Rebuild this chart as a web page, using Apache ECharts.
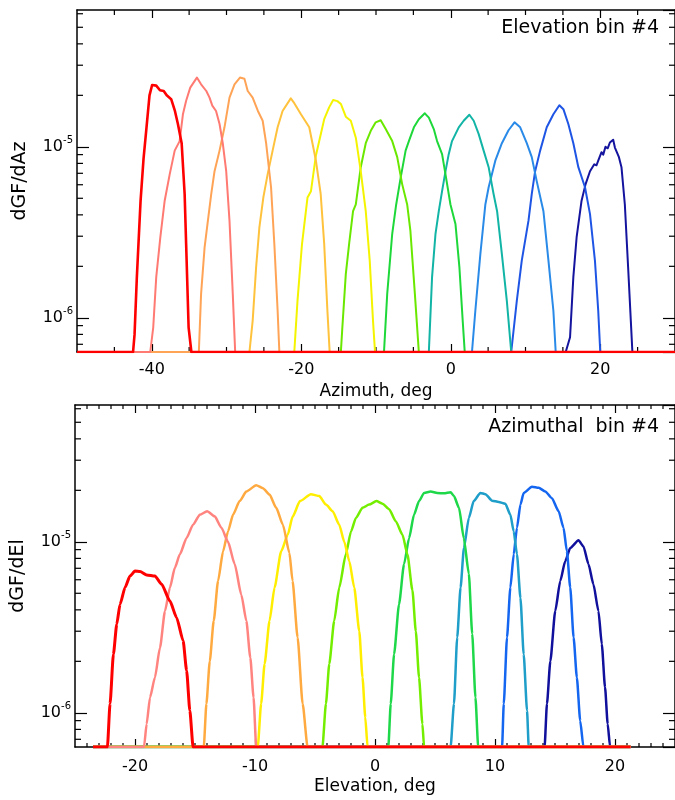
<!DOCTYPE html>
<html><head><meta charset="utf-8">
<script src="https://cdn.jsdelivr.net/npm/echarts@6/dist/echarts.min.js"></script>
<style>html,body{margin:0;padding:0;background:#fff}#main{width:675px;height:800px}</style>
</head><body><div id="main"></div>
<script>
// floor value (curves at zero are drawn on the bottom of the log axis)
const F = 6.31e-7;
const Y_MIN = 6.31e-7;
const Y_MAX = 6.31e-5;

// ---------- Top panel: Elevation bin #4, dGF/dAz vs Azimuth ----------
const azRed = [[-42.5,F],[-42.3,8e-7],[-42.0,1.7e-6],[-41.5,4.8e-6],[-41.1,8.5e-6],[-40.7,1.3e-5],[-40.3,2.0e-5],[-39.95,2.3e-5],[-39.4,2.28e-5],[-38.9,2.14e-5],[-38.4,2.12e-5],[-38.0,2.0e-5],[-37.4,1.9e-5],[-36.9,1.62e-5],[-36.5,1.36e-5],[-36.0,1.05e-5],[-35.6,5.3e-6],[-35.4,2.7e-6],[-35.07,8.8e-7],[-34.7,F]];
const azSalmon = [[-40.2,F],[-39.8,8.8e-7],[-39.4,1.73e-6],[-38.85,2.96e-6],[-38.27,4.84e-6],[-37.6,6.9e-6],[-36.93,9.5e-6],[-36.27,1.08e-5],[-35.83,1.55e-5],[-35.4,1.86e-5],[-34.85,2.22e-5],[-33.96,2.54e-5],[-33.4,2.32e-5],[-32.7,2.12e-5],[-32.27,1.94e-5],[-31.9,1.74e-5],[-31.4,1.62e-5],[-30.93,1.36e-5],[-30.5,1.05e-5],[-30.04,7.2e-6],[-29.6,3.7e-6],[-29.16,1.38e-6],[-28.84,F]];
const azOrange = [[-33.7,F],[-33.4,1.38e-6],[-32.93,2.58e-6],[-32.6,3.38e-6],[-32.04,5.3e-6],[-31.6,7.2e-6],[-30.93,9.5e-6],[-30.27,1.3e-5],[-29.6,1.94e-5],[-28.93,2.32e-5],[-28.2,2.54e-5],[-27.6,2.5e-5],[-27.16,2.12e-5],[-26.5,1.94e-5],[-25.8,1.62e-5],[-25.16,1.42e-5],[-24.7,1.05e-5],[-24.04,5.8e-6],[-23.6,2.7e-6],[-23.16,1.1e-6],[-22.93,F]];
const azLtOrange = [[-26.93,F],[-26.5,9.6e-7],[-26.04,1.97e-6],[-25.6,3.38e-6],[-25.07,5.06e-6],[-24.5,6.9e-6],[-23.83,9.5e-6],[-23.16,1.3e-5],[-22.5,1.62e-5],[-21.4,1.92e-5],[-20.93,1.8e-5],[-20.04,1.55e-5],[-18.93,1.3e-5],[-18.5,1.05e-5],[-18.04,8.3e-6],[-17.4,5.3e-6],[-16.93,2.7e-6],[-16.5,1.1e-6],[-16.2,F]];
const azYellow = [[-20.93,F],[-20.5,1.26e-6],[-19.9,2.7e-6],[-19.16,5.06e-6],[-18.7,5.5e-6],[-18.04,8.9e-6],[-16.93,1.45e-5],[-16.27,1.7e-5],[-15.73,1.88e-5],[-15.16,1.85e-5],[-14.7,1.78e-5],[-14.04,1.5e-5],[-13.37,1.42e-5],[-12.7,1.13e-5],[-12.04,7.2e-6],[-11.37,4.2e-6],[-10.84,2.16e-6],[-10.4,9.6e-7],[-10.13,F]];
const azLtGreen = [[-14.7,F],[-14.5,8.8e-7],[-14.04,1.8e-6],[-13.6,2.7e-6],[-13.07,4.2e-6],[-12.7,4.6e-6],[-12.04,7.6e-6],[-11.37,1.05e-5],[-10.7,1.24e-5],[-10.04,1.39e-5],[-9.37,1.43e-5],[-8.7,1.27e-5],[-7.83,1.08e-5],[-7.16,8.7e-6],[-6.5,6.05e-6],[-5.83,4.6e-6],[-5.4,3.23e-6],[-4.8,1.38e-6],[-4.27,F]];
const azGreen = [[-8.93,F],[-8.5,1.38e-6],[-7.83,3.1e-6],[-7.3,4.6e-6],[-6.7,6.6e-6],[-6.04,9.5e-6],[-5.6,1.08e-5],[-4.93,1.3e-5],[-4.27,1.45e-5],[-3.47,1.57e-5],[-2.93,1.48e-5],[-2.27,1.27e-5],[-1.83,1.08e-5],[-1.16,9.06e-6],[-0.63,6.6e-6],[-0.04,4.6e-6],[0.63,3.54e-6],[1.16,1.97e-6],[1.6,9.6e-7],[1.87,F]];
const azTeal = [[-2.93,F],[-2.5,1.73e-6],[-2.04,3.1e-6],[-1.6,4.2e-6],[-1.16,5.5e-6],[-0.7,7.2e-6],[-0.27,9.06e-6],[0.17,1.08e-5],[1.07,1.3e-5],[1.73,1.42e-5],[2.49,1.54e-5],[3.07,1.42e-5],[3.73,1.19e-5],[4.4,9.5e-6],[5.07,7.6e-6],[5.73,5.3e-6],[6.2,4.2e-6],[6.84,2.36e-6],[7.5,1.26e-6],[8.09,F]];
const azLtBlue = [[2.84,F],[3.29,1.1e-6],[3.96,2.36e-6],[4.63,4.6e-6],[5.07,5.8e-6],[5.96,8.3e-6],[6.84,1.05e-5],[7.73,1.25e-5],[8.53,1.39e-5],[9.29,1.3e-5],[10.17,1.05e-5],[10.84,8.7e-6],[11.5,6.3e-6],[12.4,4.2e-6],[13.07,2.16e-6],[13.73,1.1e-6],[14.04,F]];
const azBlue = [[8.09,F],[8.84,1.26e-6],[9.5,2.16e-6],[10.4,3.7e-6],[10.84,5.3e-6],[11.29,7.2e-6],[11.96,9.5e-6],[12.84,1.3e-5],[13.73,1.55e-5],[14.53,1.75e-5],[15.07,1.66e-5],[15.73,1.36e-5],[16.4,1.05e-5],[17.07,7.6e-6],[17.96,5.8e-6],[18.63,4.04e-6],[19.29,2.16e-6],[19.73,1.1e-6],[20.0,F]];
const azNavy = [[15.38,F],[15.96,7.7e-7],[16.4,1.73e-6],[16.84,2.96e-6],[17.5,4.84e-6],[18.04,6.05e-6],[18.63,7.2e-6],[19.2,7.9e-6],[19.5,7.8e-6],[19.73,8.3e-6],[20.17,9.3e-6],[20.4,9.0e-6],[20.7,1.0e-5],[21.0,9.8e-6],[21.29,1.06e-5],[21.5,1.04e-5],[21.73,1.1e-5],[21.96,9.9e-6],[22.5,8.7e-6],[22.84,7.6e-6],[23.29,4.6e-6],[23.73,1.97e-6],[24.09,9.6e-7],[24.3,F]];

// ---------- Bottom panel: Azimuthal bin #4, dGF/dEl vs Elevation ----------
const elRed = [[-22.3,F],[-22.08,1.13e-6],[-21.8,2.2e-6],[-21.52,3.3e-6],[-21.25,4.3e-6],[-20.83,5.4e-6],[-20.42,6.3e-6],[-20.0,6.75e-6],[-19.58,6.7e-6],[-19.03,6.4e-6],[-18.34,6.3e-6],[-17.78,5.65e-6],[-17.09,4.5e-6],[-16.53,3.6e-6],[-15.99,2.64e-6],[-15.7,1.77e-6],[-15.43,1.03e-6],[-15.16,F]];
const elSalmon = [[-19.25,F],[-19.03,8.6e-7],[-18.75,1.23e-6],[-18.34,1.61e-6],[-17.92,2.4e-6],[-17.5,3.94e-6],[-17.09,5.4e-6],[-16.68,7.05e-6],[-16.26,8.45e-6],[-15.71,1.05e-5],[-15.16,1.26e-5],[-14.6,1.44e-5],[-13.99,1.51e-5],[-13.36,1.41e-5],[-12.8,1.21e-5],[-12.25,1.0e-5],[-11.69,7.4e-6],[-11.14,4.9e-6],[-10.72,3.45e-6],[-10.39,2.1e-6],[-10.12,1.23e-6],[-9.9,F]];
const elOrange = [[-14.27,F],[-14.05,1.13e-6],[-13.77,2.0e-6],[-13.44,3.45e-6],[-13.08,5.9e-6],[-12.66,8.8e-6],[-12.25,1.15e-5],[-11.83,1.44e-5],[-11.28,1.73e-5],[-10.72,1.97e-5],[-9.9,2.14e-5],[-9.34,2.06e-5],[-8.79,1.89e-5],[-8.23,1.58e-5],[-7.68,1.26e-5],[-7.13,8.6e-6],[-6.87,5.9e-6],[-6.45,2.76e-6],[-6.03,1.13e-6],[-5.62,F]];
const elYellow = [[-9.77,F],[-9.49,1.13e-6],[-9.2,1.93e-6],[-8.79,3.45e-6],[-8.37,5.4e-6],[-7.82,8.8e-6],[-7.27,1.1e-5],[-6.87,1.4e-5],[-6.25,1.73e-5],[-5.34,1.9e-5],[-4.64,1.85e-5],[-4.09,1.65e-5],[-3.53,1.51e-5],[-2.98,1.26e-5],[-2.56,1.0e-5],[-2.14,7.7e-6],[-1.73,5.4e-6],[-1.31,3.0e-6],[-1.04,1.61e-6],[-0.81,9.4e-7],[-0.62,F]];
const elLtGreen = [[-4.38,F],[-4.09,1.13e-6],[-3.81,1.93e-6],[-3.4,3.45e-6],[-2.98,5.4e-6],[-2.43,8.45e-6],[-2.0,1.15e-5],[-1.59,1.38e-5],[-1.04,1.58e-5],[-0.49,1.65e-5],[0.12,1.73e-5],[0.62,1.67e-5],[1.18,1.55e-5],[1.73,1.32e-5],[2.29,1.1e-5],[2.7,8.45e-6],[3.12,5.2e-6],[3.4,3.0e-6],[3.67,1.61e-6],[3.95,8.6e-7],[4.09,F]];
const elGreen = [[1.11,F],[1.31,1.13e-6],[1.59,2.2e-6],[2.0,4.3e-6],[2.42,7.4e-6],[2.84,1.05e-5],[3.25,1.44e-5],[3.67,1.73e-5],[4.09,1.93e-5],[4.64,1.97e-5],[5.19,1.93e-5],[5.75,1.92e-5],[6.3,1.95e-5],[6.58,1.85e-5],[7.0,1.58e-5],[7.4,1.05e-5],[7.82,6.5e-6],[8.1,2.9e-6],[8.37,1.23e-6],[8.6,F]];
const elTeal = [[6.3,F],[6.58,1.13e-6],[6.85,2.76e-6],[7.13,5.4e-6],[7.41,9.2e-6],[7.82,1.38e-5],[8.23,1.73e-5],[8.78,1.93e-5],[9.2,1.9e-5],[9.76,1.74e-5],[10.31,1.71e-5],[10.86,1.67e-5],[11.28,1.44e-5],[11.56,1.15e-5],[11.83,8.45e-6],[12.12,4.7e-6],[12.39,2.2e-6],[12.67,1.03e-6],[12.81,F]];
const elBlue = [[10.59,F],[10.73,1.13e-6],[11.0,2.76e-6],[11.28,5.4e-6],[11.56,8.45e-6],[11.83,1.21e-5],[12.12,1.65e-5],[12.39,1.93e-5],[13.08,2.1e-5],[13.64,2.07e-5],[14.19,1.97e-5],[14.74,1.8e-5],[15.3,1.51e-5],[15.71,1.21e-5],[15.99,8.8e-6],[16.27,5.4e-6],[16.55,2.76e-6],[16.82,1.61e-6],[17.1,9.0e-7],[17.37,F]];
const elNavy = [[14.13,F],[14.33,1.13e-6],[14.61,2.0e-6],[15.02,3.94e-6],[15.44,5.9e-6],[15.85,7.7e-6],[16.27,9.2e-6],[16.96,1.02e-5],[17.37,9.4e-6],[17.79,7.4e-6],[18.2,5.65e-6],[18.62,3.94e-6],[18.9,2.52e-6],[19.17,1.41e-6],[19.39,8.6e-7],[19.59,F]];

const azCurves = [azRed, azSalmon, azOrange, azLtOrange, azYellow, azLtGreen, azGreen, azTeal, azLtBlue, azBlue, azNavy];
const azColors = ['#ff0000','#ff7a72','#ffa456','#ffc23c','#f4f400','#6ae800','#1ed83a','#12b4a6','#2a8ae8','#1f55e4','#14149e'];
const azWidths = [2.6,2,2,2,2,2,2,2,2,2,2];
const elCurves = [elRed, elSalmon, elOrange, elYellow, elLtGreen, elGreen, elTeal, elBlue, elNavy];
const elColors = ['#ff0000','#ff8480','#ffaa40','#ffee00','#74ee00','#1ed84a','#1e9ec8','#1466f0','#10109c'];
const elWidths = [3,2.5,2.5,2.5,2.5,2.5,2.5,2.5,2.5];

const azTitle = 'Elevation bin #4';
const elTitle = 'Azimuthal  bin #4';
const azXName = 'Azimuth, deg';
const elXName = 'Elevation, deg';
const azYName = 'dGF/dAz';
const elYName = 'dGF/dEl';
const azRange = [-50, 30];
const elRange = [-25, 25];
const azBaseline = [-50, 30];
const elBaseline = [-23.5, 21.3];
const azTicks = [-40, -20, 0, 20];
const elTicks = [-20, -10, 0, 10, 20];
const azMinor = [-45, -35, -30, -25, -15, -10, -5, 5, 10, 15, 25];
const elMinor = [-24,-23,-22,-21,-19,-18,-17,-16,-15,-14,-13,-12,-11,-9,-8,-7,-6,-5,-4,-3,-2,-1,1,2,3,4,5,6,7,8,9,11,12,13,14,15,16,17,18,19,21,22,23,24];
const yMinor = [7e-7,8e-7,9e-7,2e-6,3e-6,4e-6,5e-6,6e-6,7e-6,8e-6,9e-6,2e-5,3e-5,4e-5,5e-5,6e-5];

const FONT = 'DejaVu Sans';

function lineSeries(curves, colors, widths, g, base, smooth) {
  const out = [];
  for (let i = curves.length - 1; i >= 0; i--) {
    out.push({
      type: 'line', xAxisIndex: g * 2, yAxisIndex: g * 2,
      data: [[base[0], F]].concat(curves[i], [[base[1], F]]),
      showSymbol: false, symbol: 'none', silent: true, animation: false, z: 3,
      smooth: smooth, smoothMonotone: 'x',
      lineStyle: { color: colors[i], width: widths[i], join: 'round' }
    });
  }
  return out;
}

function tickSeries(g, xMinor, xLo, lx, ly) {
  const data = xMinor.map(v => [v, Y_MIN, 0]).concat(yMinor.map(v => [xLo, v, 1]));
  return {
    type: 'custom', xAxisIndex: g * 2, yAxisIndex: g * 2, silent: true, animation: false, z: 1,
    encode: { x: 0, y: 1 }, data,
    renderItem(params, api) {
      const cs = params.coordSys;
      const st = { stroke: '#000', lineWidth: 1.2 };
      if (api.value(2) === 0) {
        const px = api.coord([api.value(0), Y_MIN])[0];
        return { type: 'group', children: [
          { type: 'line', shape: { x1: px, y1: cs.y + cs.height, x2: px, y2: cs.y + cs.height - lx }, style: st },
          { type: 'line', shape: { x1: px, y1: cs.y, x2: px, y2: cs.y + lx }, style: st }
        ]};
      }
      const py = api.coord([xLo, api.value(1)])[1];
      return { type: 'group', children: [
        { type: 'line', shape: { x1: cs.x, y1: py, x2: cs.x + ly, y2: py }, style: st },
        { type: 'line', shape: { x1: cs.x + cs.width, y1: py, x2: cs.x + cs.width - ly, y2: py }, style: st }
      ]};
    }
  };
}

const lineSt = { color: '#000', width: 1.5 };
const tickSt = { color: '#000', width: 1.2 };

function xAxes(g, range, ticks, name, margin) {
  return [
    { gridIndex: g, type: 'value', position: 'bottom', min: range[0], max: range[1],
      axisLine: { show: true, onZero: false, lineStyle: lineSt },
      axisTick: { show: true, inside: true, length: 8, customValues: ticks, lineStyle: tickSt },
      axisLabel: { show: true, customValues: ticks, margin: margin, color: '#000', fontSize: 16, fontFamily: FONT },
      splitLine: { show: false },
      name: name, nameLocation: 'middle', nameGap: 31,
      nameTextStyle: { color: '#000', fontSize: 17, fontFamily: FONT } },
    { gridIndex: g, type: 'value', position: 'top', min: range[0], max: range[1],
      axisLine: { show: true, onZero: false, lineStyle: lineSt },
      axisTick: { show: true, inside: true, length: 8, customValues: ticks, lineStyle: tickSt },
      axisLabel: { show: false }, splitLine: { show: false } }
  ];
}

function yFormatter(v) {
  const l = Math.log10(v);
  const e = Math.round(l);
  if (Math.abs(l - e) > 1e-6) return '';
  return '{b|10}{s|' + e + '}';
}

function yAxes(g, name) {
  return [
    { gridIndex: g, type: 'log', logBase: 10, position: 'left', min: Y_MIN, max: Y_MAX,
      axisLine: { show: true, onZero: false, lineStyle: lineSt },
      axisTick: { show: true, inside: true, length: 12, lineStyle: tickSt },
      axisLabel: { show: true, margin: 4, formatter: yFormatter, showMinLabel: false, showMaxLabel: false,
        rich: { b: { fontSize: 16, fontFamily: FONT, color: '#000', lineHeight: 22, verticalAlign: 'middle' },
                s: { fontSize: 10, fontFamily: FONT, color: '#000', lineHeight: 10, verticalAlign: 'top' } } },
      splitLine: { show: false }, minorTick: { show: false },
      name: name, nameLocation: 'middle', nameGap: 47, nameRotate: 90,
      nameTextStyle: { color: '#000', fontSize: 19, fontFamily: FONT } },
    { gridIndex: g, type: 'log', logBase: 10, position: 'right', min: Y_MIN, max: Y_MAX,
      axisLine: { show: true, onZero: false, lineStyle: lineSt },
      axisTick: { show: true, inside: true, length: 12, lineStyle: tickSt },
      axisLabel: { show: false }, splitLine: { show: false } }
  ];
}

const chart = echarts.init(document.getElementById('main'), null, { renderer: 'canvas' });
chart.setOption({
  animation: false,
  backgroundColor: '#fff',
  title: [
    { text: azTitle, right: 16, top: 19, padding: 0, textStyle: { fontFamily: FONT, fontSize: 19, fontWeight: 'normal', color: '#000' } },
    { text: elTitle, right: 16, top: 418, padding: 0, textStyle: { fontFamily: FONT, fontSize: 19, fontWeight: 'normal', color: '#000' } }
  ],
  grid: [
    { left: 77, top: 10, width: 600, height: 342 },
    { left: 75, top: 405, width: 602, height: 342 }
  ],
  xAxis: xAxes(0, azRange, azTicks, azXName, 10).concat(xAxes(1, elRange, elTicks, elXName, 12)),
  yAxis: yAxes(0, azYName).concat(yAxes(1, elYName)),
  series: [].concat(
    lineSeries(azCurves, azColors, azWidths, 0, azBaseline, false),
    lineSeries(elCurves, elColors, elWidths, 1, elBaseline, 0.2),
    [tickSeries(0, azMinor, azRange[0], 5, 6), tickSeries(1, elMinor, elRange[0], 4, 6)]
  )
});
</script>
</body></html>
